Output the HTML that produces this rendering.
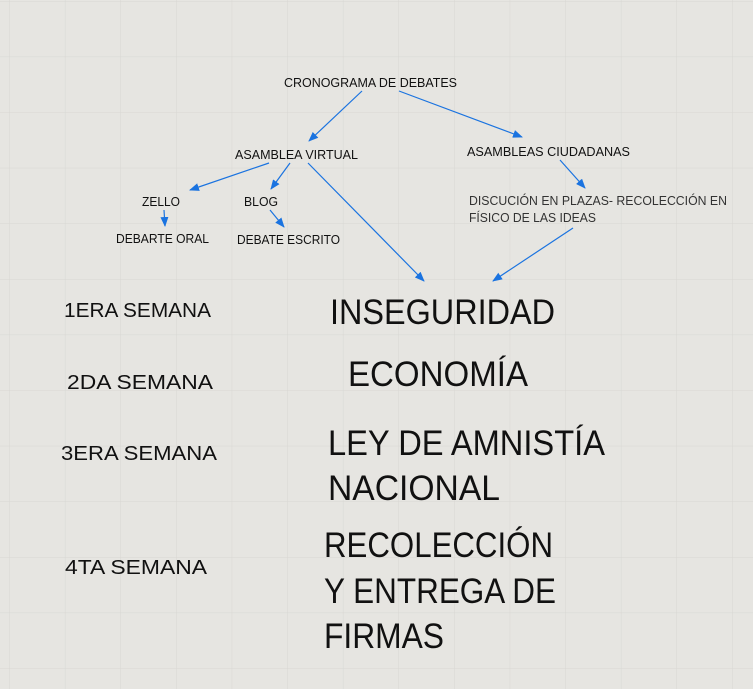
<!DOCTYPE html>
<html><head><meta charset="utf-8"><style>
html,body{margin:0;padding:0;background:#e6e5e1;}
svg{display:block;}
text{font-family:"Liberation Sans",sans-serif;fill:#111;}
</style></head><body>
<svg width="753" height="689" viewBox="0 0 753 689" xmlns="http://www.w3.org/2000/svg">
<defs>
<pattern id="g" x="9.3" y="1" width="55.6" height="55.6" patternUnits="userSpaceOnUse">
<path d="M0 0V55.6M0 0H55.6" stroke="#d8d7d3" stroke-width="1" fill="none"/>
</pattern>
<marker id="a" markerWidth="10" markerHeight="8" refX="9" refY="4" orient="auto" markerUnits="userSpaceOnUse">
<path d="M0,0 L10,4 L0,8 Z" fill="#1a73e0"/>
</marker>
</defs>
<rect width="753" height="689" fill="#e6e5e1"/>
<rect width="753" height="689" fill="url(#g)"/>
<g stroke="#1a73e0" stroke-width="1.2" fill="none" marker-end="url(#a)">
<line x1="362" y1="91" x2="309" y2="141"/>
<line x1="399" y1="91" x2="522" y2="137"/>
<line x1="269" y1="163" x2="190" y2="190"/>
<line x1="290" y1="163" x2="271" y2="189"/>
<line x1="308" y1="163" x2="424" y2="281"/>
<line x1="164" y1="210" x2="165" y2="226"/>
<line x1="270" y1="210" x2="284" y2="227"/>
<line x1="560" y1="160" x2="585" y2="188"/>
<line x1="573" y1="228" x2="493" y2="281"/>
</g>
<g font-size="13">
<text x="284" y="87" textLength="173" lengthAdjust="spacingAndGlyphs">CRONOGRAMA DE DEBATES</text>
<text x="235" y="159" textLength="123" lengthAdjust="spacingAndGlyphs">ASAMBLEA VIRTUAL</text>
<text x="467" y="156" textLength="163" lengthAdjust="spacingAndGlyphs">ASAMBLEAS CIUDADANAS</text>
<text x="142" y="206" textLength="38" lengthAdjust="spacingAndGlyphs">ZELLO</text>
<text x="244" y="206" textLength="34" lengthAdjust="spacingAndGlyphs">BLOG</text>
<text x="116" y="243" textLength="93" lengthAdjust="spacingAndGlyphs">DEBARTE ORAL</text>
<text x="237" y="244" textLength="103" lengthAdjust="spacingAndGlyphs">DEBATE ESCRITO</text>
<text x="469" y="205" textLength="258" lengthAdjust="spacingAndGlyphs" style="fill:#333">DISCUCIÓN EN PLAZAS- RECOLECCIÓN EN</text>
<text x="469" y="222" textLength="127" lengthAdjust="spacingAndGlyphs" style="fill:#333">FÍSICO DE LAS IDEAS</text>
</g>
<g font-size="20">
<text x="64" y="317" textLength="147" lengthAdjust="spacingAndGlyphs">1ERA SEMANA</text>
<text x="67" y="389" textLength="146" lengthAdjust="spacingAndGlyphs">2DA SEMANA</text>
<text x="61" y="460" textLength="156" lengthAdjust="spacingAndGlyphs">3ERA SEMANA</text>
<text x="65" y="574" textLength="142" lengthAdjust="spacingAndGlyphs">4TA SEMANA</text>
</g>
<g font-size="35">
<text x="330" y="324" textLength="225" lengthAdjust="spacingAndGlyphs">INSEGURIDAD</text>
<text x="348" y="386" textLength="180" lengthAdjust="spacingAndGlyphs">ECONOMÍA</text>
<text x="328" y="455" textLength="277" lengthAdjust="spacingAndGlyphs">LEY DE AMNISTÍA</text>
<text x="328" y="500" textLength="172" lengthAdjust="spacingAndGlyphs">NACIONAL</text>
<text x="324" y="557" textLength="229" lengthAdjust="spacingAndGlyphs">RECOLECCIÓN</text>
<text x="324" y="603" textLength="232" lengthAdjust="spacingAndGlyphs">Y ENTREGA DE</text>
<text x="324" y="648" textLength="120" lengthAdjust="spacingAndGlyphs">FIRMAS</text>
</g>
</svg>
</body></html>
